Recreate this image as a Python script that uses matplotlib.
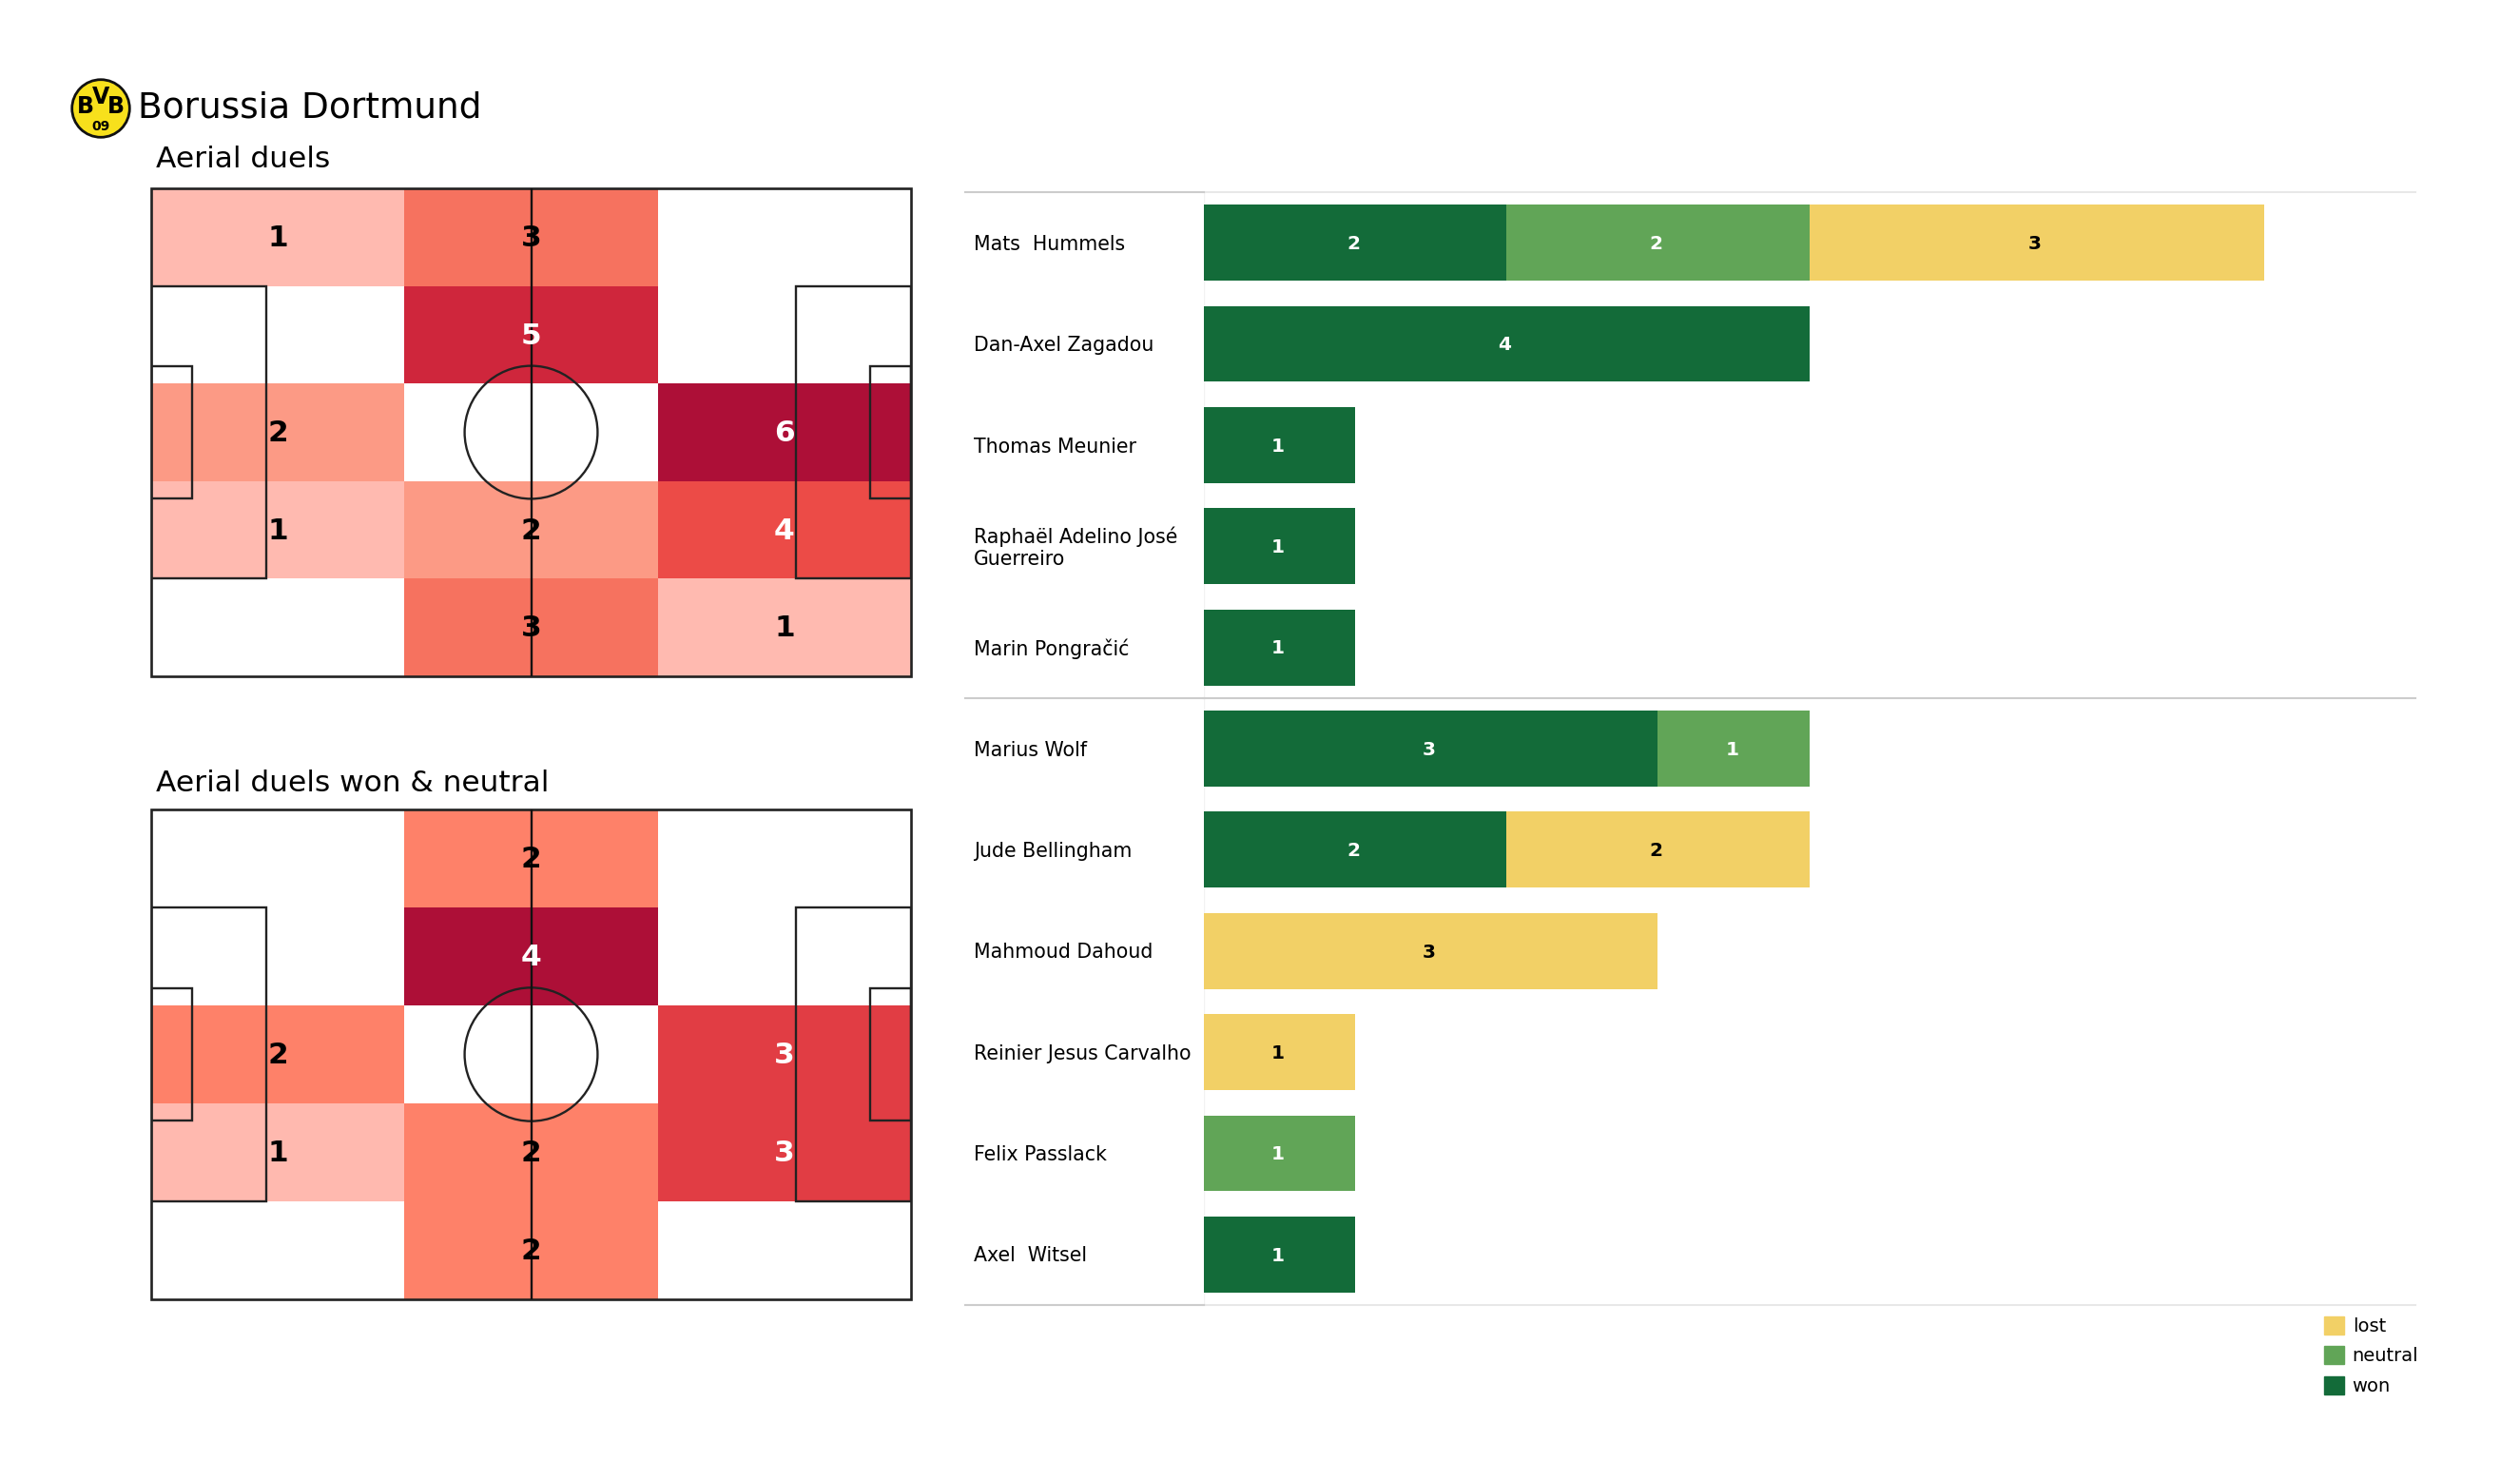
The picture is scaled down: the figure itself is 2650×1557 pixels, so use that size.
import numpy as np
import matplotlib.pyplot as plt
from matplotlib.colors import LinearSegmentedColormap
from matplotlib.patches import Circle, Ellipse, Patch, Rectangle

W, H = 2650, 1557

# heatmap counts, top row first
aerial_duels = [[1, 3, 0], [0, 5, 0], [2, 0, 6], [1, 2, 4], [0, 3, 1]]
aerial_won_neutral = [[0, 2, 0], [0, 4, 0], [2, 0, 3], [1, 2, 3], [0, 2, 0]]

# players, top to bottom
players = ['Mats  Hummels', 'Dan-Axel Zagadou', 'Thomas Meunier',
           'Raphaël Adelino José\nGuerreiro', 'Marin Pongračić', 'Marius Wolf',
           'Jude Bellingham', 'Mahmoud Dahoud', 'Reinier Jesus Carvalho',
           'Felix Passlack', 'Axel  Witsel']
won = [2, 4, 1, 1, 1, 3, 2, 0, 0, 0, 1]
neutral = [2, 0, 0, 0, 0, 1, 0, 0, 0, 1, 0]
lost = [3, 0, 0, 0, 0, 0, 2, 3, 1, 0, 0]

col_won = '#136b39'
col_neutral = '#61a557'
col_lost = '#f2d066'

# the two maps are not on quite the same scale in the original
heat_all = LinearSegmentedColormap.from_list('heat_all', [
    (0.0, '#ffffff'), (0.167, '#ffb9af'), (0.333, '#fc9a85'), (0.5, '#f6725f'),
    (0.667, '#ec4b47'), (0.833, '#cf263c'), (1.0, '#ad0f37')])
heat_won = LinearSegmentedColormap.from_list('heat_won', [
    (0.0, '#ffffff'), (0.25, '#ffb9af'), (0.5, '#fe8269'), (0.75, '#e23e44'),
    (1.0, '#ad0f37')])


def box(x0, y0, x1, y1):
    # pixel box (top-left origin) to figure fractions
    return [x0 / W, 1 - y1 / H, (x1 - x0) / W, (y1 - y0) / H]


def draw_pitch(ax, counts, cmap):
    counts = np.array(counts)
    ax.pcolormesh(np.linspace(0, 120, 4), np.linspace(80, 0, 6), counts,
                  cmap=cmap, vmin=0, vmax=counts.max())
    line = dict(fill=False, ec='#222222', lw=1.7, zorder=3)
    ax.add_patch(Rectangle((0, 0), 120, 80, fill=False, ec='#222222', lw=1.9, zorder=3, clip_on=False))
    ax.add_patch(Rectangle((0, 16), 18.2, 48, **line))
    ax.add_patch(Rectangle((101.8, 16), 18.2, 48, **line))
    ax.add_patch(Rectangle((0, 29.2), 6.4, 21.6, **line))
    ax.add_patch(Rectangle((113.6, 29.2), 6.4, 21.6, **line))
    ax.add_patch(Ellipse((60, 40), 21, 21.8, **line))
    ax.plot([60, 60], [0, 80], color='#111111', lw=1.7, zorder=3)
    for r in range(5):
        for c in range(3):
            v = counts[r, c]
            if v > 0:
                colour = 'white' if v / counts.max() > 0.6 else 'black'
                ax.text(20 + c * 40, 71.8 - r * 16, str(v), ha='center', va='center',
                        fontsize=22.5, fontweight='bold', color=colour, zorder=4)
    ax.set_xlim(0, 120)
    ax.set_ylim(0, 80)
    ax.axis('off')


fig = plt.figure(figsize=(W / 100, H / 100), dpi=100, facecolor='white')

# title and logo
fig.text(145 / W, 1 - 113.5 / H, 'Borussia Dortmund', fontsize=27, va='center', ha='left')

logo = fig.add_axes(box(72, 80, 140, 148))
logo.set_xlim(-1.1, 1.1)
logo.set_ylim(-1.1, 1.1)
logo.axis('off')
logo.add_patch(Circle((0, 0), 0.98, fc='#f7e01c', ec='#111111', lw=2))
logo.text(-0.52, 0.08, 'B', fontsize=17, fontweight='bold', ha='center', va='center')
logo.text(0, 0.38, 'V', fontsize=17, fontweight='bold', ha='center', va='center')
logo.text(0.52, 0.08, 'B', fontsize=17, fontweight='bold', ha='center', va='center')
logo.text(0, -0.62, '09', fontsize=10, fontweight='bold', ha='center', va='center')

# pitches
fig.text(164 / W, 1 - 168 / H, 'Aerial duels', fontsize=22.5, va='center', ha='left')
ax1 = fig.add_axes(box(159, 198, 958, 711))
draw_pitch(ax1, aerial_duels, heat_all)

fig.text(164 / W, 1 - 823 / H, 'Aerial duels won & neutral', fontsize=22.5, va='center', ha='left')
ax2 = fig.add_axes(box(159, 851, 958, 1366))
draw_pitch(ax2, aerial_won_neutral, heat_won)

# stacked bars
ax3 = fig.add_axes(box(1265.5, 202, 2540, 1372))
rows = np.arange(len(players))
won_arr = np.array(won)
neutral_arr = np.array(neutral)
lost_arr = np.array(lost)
ax3.barh(rows, won_arr, height=0.75, color=col_won)
ax3.barh(rows, neutral_arr, left=won_arr, height=0.75, color=col_neutral)
ax3.barh(rows, lost_arr, left=won_arr + neutral_arr, height=0.75, color=col_lost)

for i in rows:
    start = 0
    for vals, colour in [(won, 'white'), (neutral, 'white'), (lost, 'black')]:
        v = vals[i]
        if v > 0:
            ax3.text(start + v / 2 - 0.01, i + 0.012, str(v), ha='center', va='center',
                     fontsize=14.5, fontweight='bold', color=colour)
        start += v
    ax3.text(-241.5 / 159.4, i + 0.015, players[i], ha='left', va='center', fontsize=14.8, clip_on=False)

ax3.set_xlim(0, 8)
ax3.set_ylim(10.5, -0.5)
ax3.axis('off')

# separators, the part under the names is darker
ax3.axvline(0, color='#f2f2f2', lw=1, zorder=0)
for y, right_col in [(-0.5, '#e8e8e8'), (4.5, '#cccccc'), (10.5, '#e8e8e8')]:
    ax3.plot([0, 8], [y, y], color=right_col, lw=1.5, clip_on=False)
    ax3.plot([-251 / 159.4, 0], [y, y], color='#cccccc', lw=1.5, clip_on=False)

handles = [Patch(color=col_lost, label='lost'), Patch(color=col_neutral, label='neutral'),
           Patch(color=col_won, label='won')]
fig.legend(handles=handles, loc='upper left', bbox_to_anchor=(2426 / W, 1 - 1366 / H),
           frameon=False, fontsize=14, handlelength=1.13, handleheight=1.13,
           labelspacing=0.6, handletextpad=0.42)

fig.savefig('out.png', dpi=100, facecolor='white')
